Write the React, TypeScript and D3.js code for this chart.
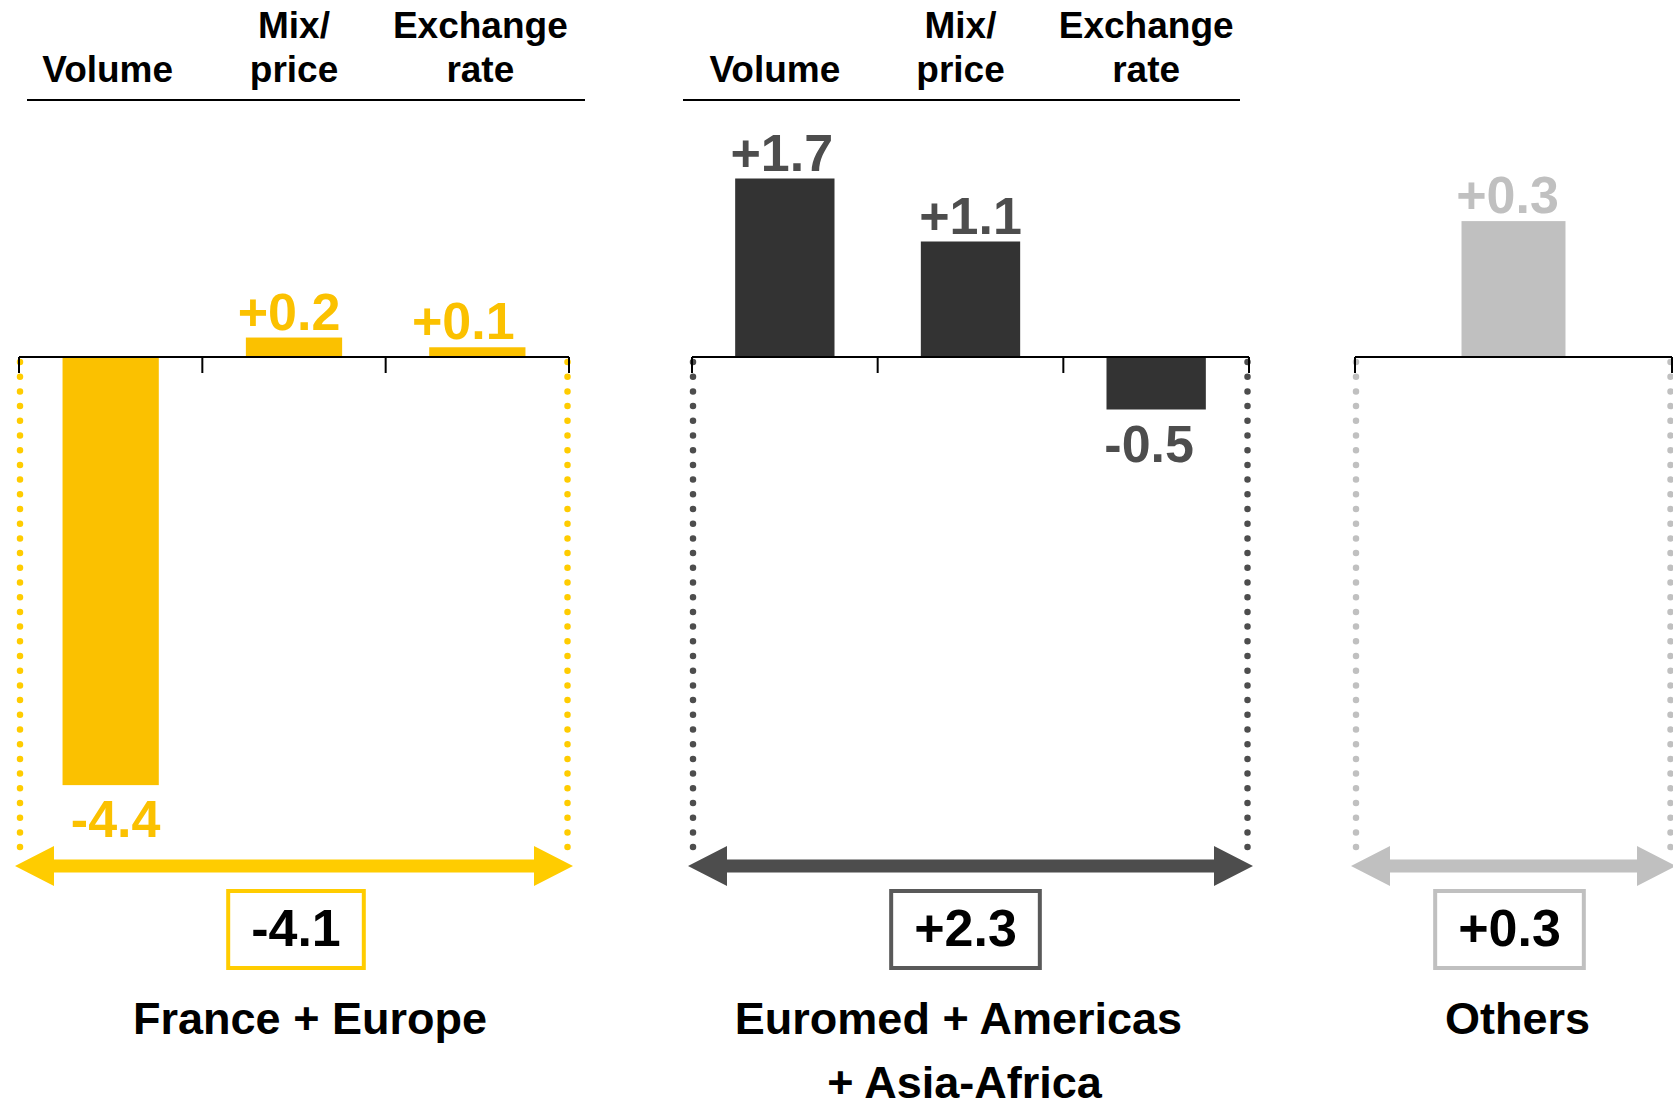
import React from "react";
import * as d3 from "d3";

// ---------- data ----------
const categories = ["Volume", "Mix/price", "Exchange rate"];
const headerLabels = [["Volume"], ["Mix/", "price"], ["Exchange", "rate"]];
const regionNames = [["France + Europe"], ["Euromed + Americas", "+ Asia-Africa"], ["Others"]];
const franceEuropeValues = [-4.4, 0.2, 0.1];
const euromedAmericasAsiaValues = [1.7, 1.1, -0.5];
const othersCategories = ["Total"];
const othersValues = [0.3];
const regionTotals = [-4.1, 2.3, 0.3];

// ---------- layout / style ----------
const W = 1673;
const H = 1108;
const FONT = "'Liberation Sans', Arial, Helvetica, sans-serif";
const ZERO_Y = 357;
const ARROW_Y = 866;

const panels = [
  {
    cats: categories, values: franceEuropeValues, total: regionTotals[0], name: regionNames[0],
    x0: 19, x1: 569, ppu: 97.3, pad: 0.475,
    bar: "#FBC100", label: "#FBC100", accent: "#FFCC00", boxStroke: "#FFCC00",
    header: true, headerLine: [27, 585], headerDx: [-3, 0, 3], labelDx: [5, -5, -14],
    boxDx: 2, nameDx: 16,
  },
  {
    cats: categories, values: euromedAmericasAsiaValues, total: regionTotals[1], name: regionNames[1],
    x0: 692, x1: 1249, ppu: 105, pad: 0.465,
    bar: "#333333", label: "#4D4D4D", accent: "#4D4D4D", boxStroke: "#595959",
    header: true, headerLine: [683, 1240], headerDx: [-10, -10, -10], labelDx: [-3, 0, -7],
    boxDx: -5, nameDx: -12,
  },
  {
    cats: othersCategories, values: othersValues, total: regionTotals[2], name: regionNames[2],
    x0: 1355, x1: 1672, ppu: 453, pad: 0.672,
    bar: "#C0C0C0", label: "#C0C0C0", accent: "#C0C0C0", boxStroke: "#C0C0C0",
    header: false, headerLine: [0, 0], headerDx: [0], labelDx: [-6],
    boxDx: -4, nameDx: 4,
  },
];

const fmt = (v: number) => (v > 0 ? "+" : "-") + Math.abs(v).toFixed(1);

let ctx: CanvasRenderingContext2D | null = null;
function measure(text: string, font: string) {
  if (!ctx) ctx = document.createElement("canvas").getContext("2d");
  if (!ctx) return text.length * 26;
  ctx.font = font;
  return ctx.measureText(text).width;
}

function arrowPath(xa: number, xb: number, y: number) {
  const head = 39, hh = 20, sh = 6.5;
  const p = d3.path();
  p.moveTo(xa, y);
  p.lineTo(xa + head, y - hh);
  p.lineTo(xa + head, y - sh);
  p.lineTo(xb - head, y - sh);
  p.lineTo(xb - head, y - hh);
  p.lineTo(xb, y);
  p.lineTo(xb - head, y + hh);
  p.lineTo(xb - head, y + sh);
  p.lineTo(xa + head, y + sh);
  p.lineTo(xa + head, y + hh);
  p.closePath();
  return p.toString();
}

function Panel({ p }: { p: (typeof panels)[number] }) {
  const x = d3.scaleBand<string>().domain(p.cats).range([p.x0, p.x1])
    .paddingInner(p.pad).paddingOuter(p.pad / 2);
  const y = d3.scaleLinear().domain([0, 1]).range([ZERO_Y, ZERO_Y - p.ppu]);
  const step = x.step();
  const bounds = p.cats.map((c) => (x(c) as number) - (step * p.pad) / 2).concat([p.x1]);
  const cx = (p.x0 + p.x1) / 2;

  const boxText = fmt(p.total);
  const boxFont = `bold 52px ${FONT}`;
  const tw = measure(boxText, boxFont);
  const bw = tw + 46;
  const bcx = cx + p.boxDx;

  return (
    <g>
      {p.header && (
        <g>
          {p.cats.map((c, i) => {
            const lines = headerLabels[i];
            const hx = (x(c) as number) + x.bandwidth() / 2 + p.headerDx[i];
            return lines.map((ln, j) => (
              <text key={c + j} x={hx} y={82 - (lines.length - 1 - j) * 44}
                textAnchor="middle" fontFamily={FONT} fontWeight="bold" fontSize={37} fill="#000">
                {ln}
              </text>
            ));
          })}
          <line x1={p.headerLine[0]} x2={p.headerLine[1]} y1={100} y2={100} stroke="#000" strokeWidth={2} />
        </g>
      )}

      {/* dotted verticals */}
      {[p.x0 + 1, p.x1 - 1.5].map((dx, i) => (
        <line key={"dot" + i} x1={dx} x2={dx} y1={362} y2={850} stroke={p.accent}
          strokeWidth={6.5} strokeLinecap="round" strokeDasharray="0 14.7" />
      ))}

      {/* bars */}
      {p.cats.map((c, i) => {
        const v = p.values[i];
        const top = Math.min(y(v), y(0));
        const h = Math.abs(y(v) - y(0));
        return <rect key={"bar" + c} x={x(c)} y={top} width={x.bandwidth()} height={h} fill={p.bar} />;
      })}

      {/* axis */}
      <line x1={p.x0} x2={p.x1} y1={ZERO_Y} y2={ZERO_Y} stroke="#000" strokeWidth={2} />
      {bounds.map((bx, i) => (
        <line key={"tick" + i} x1={bx} x2={bx} y1={ZERO_Y} y2={ZERO_Y + 16} stroke="#000" strokeWidth={2} />
      ))}

      {/* value labels */}
      {p.cats.map((c, i) => {
        const v = p.values[i];
        const lx = (x(c) as number) + x.bandwidth() / 2 + p.labelDx[i];
        const ly = v >= 0 ? y(v) - 8 : y(v) + 52;
        return (
          <text key={"lbl" + c} x={lx} y={ly} textAnchor="middle" fontFamily={FONT}
            fontWeight="bold" fontSize={52} fill={p.label}>
            {fmt(v)}
          </text>
        );
      })}

      {/* arrow */}
      <path d={arrowPath(p.x0 - 4, p.x1 + 4, ARROW_Y)} fill={p.accent} />

      {/* total box */}
      <rect x={bcx - bw / 2} y={891} width={bw} height={77} fill="#fff" stroke={p.boxStroke} strokeWidth={4} />
      <text x={bcx} y={946} textAnchor="middle" fontFamily={FONT} fontWeight="bold" fontSize={52} fill="#000">
        {boxText}
      </text>

      {/* region name */}
      {p.name.map((ln, j) => (
        <text key={"nm" + j} x={cx + p.nameDx + (j === 1 ? 6 : 0)} y={1034 + j * 64} textAnchor="middle"
          fontFamily={FONT} fontWeight="bold" fontSize={45} fill="#000">
          {ln}
        </text>
      ))}
    </g>
  );
}

export default function App() {
  return (
    <svg width={W} height={H} viewBox={`0 0 ${W} ${H}`}
      style={{ position: "absolute", left: 0, top: 0, background: "#fff" }}>
      <rect x={0} y={0} width={W} height={H} fill="#fff" />
      {panels.map((p, i) => (
        <Panel key={i} p={p} />
      ))}
    </svg>
  );
}
